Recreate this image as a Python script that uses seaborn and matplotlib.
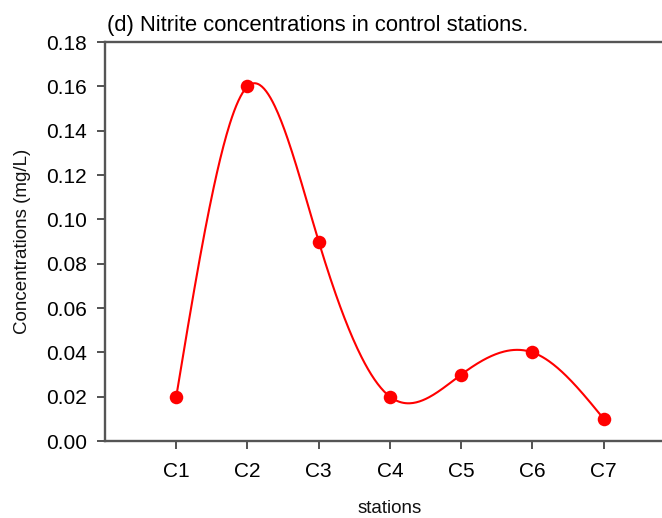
import numpy as np
import pandas as pd
import matplotlib
matplotlib.use("Agg")
import matplotlib.pyplot as plt
import seaborn as sns

stations = ["C1", "C2", "C3", "C4", "C5", "C6", "C7"]
nitrite = [0.02, 0.16, 0.09, 0.02, 0.03, 0.04, 0.01]
y_ticks = [0.00, 0.02, 0.04, 0.06, 0.08, 0.10, 0.12, 0.14, 0.16, 0.18]


def natural_cubic_spline(x, y, xs):
    x = np.asarray(x, float)
    y = np.asarray(y, float)
    n = len(x)
    h = np.diff(x)
    A = np.zeros((n, n))
    b = np.zeros(n)
    A[0, 0] = 1.0
    A[-1, -1] = 1.0
    for i in range(1, n - 1):
        A[i, i - 1] = h[i - 1]
        A[i, i] = 2 * (h[i - 1] + h[i])
        A[i, i + 1] = h[i]
        b[i] = 3 * ((y[i + 1] - y[i]) / h[i] - (y[i] - y[i - 1]) / h[i - 1])
    c = np.linalg.solve(A, b)
    out = np.empty_like(xs)
    for k, xv in enumerate(xs):
        i = min(max(np.searchsorted(x, xv) - 1, 0), n - 2)
        dx = xv - x[i]
        bi = (y[i + 1] - y[i]) / h[i] - h[i] * (2 * c[i] + c[i + 1]) / 3
        di = (c[i + 1] - c[i]) / (3 * h[i])
        out[k] = y[i] + bi * dx + c[i] * dx ** 2 + di * dx ** 3
    return out


pos = np.arange(1, len(stations) + 1)
xs = np.linspace(pos[0], pos[-1], 400)
curve = pd.DataFrame({"x": xs, "y": natural_cubic_spline(pos, nitrite, xs)})
points = pd.DataFrame({"x": pos, "y": nitrite})

sns.set_style("white")
plt.rcParams["font.family"] = ["Liberation Sans", "DejaVu Sans"]

fig = plt.figure(figsize=(6.62, 5.18), dpi=100)
ax = fig.add_axes([0.1586, 0.1486, 0.861, 0.770])

sns.lineplot(data=curve, x="x", y="y", ax=ax, color="#ff0000", linewidth=1.5, sort=False)
sns.scatterplot(data=points, x="x", y="y", ax=ax, color="#ff0000", s=95,
                edgecolor="#ff0000", linewidth=0, zorder=3)

ax.set_xlim(0, 8)
ax.set_ylim(0, 0.18)
ax.set_xticks(pos)
ax.set_xticklabels(stations)
ax.set_yticks(y_ticks)
ax.set_yticklabels([f"{v:.2f}" for v in y_ticks])
ax.tick_params(axis="both", direction="out", length=6, width=1.3, color="#444444",
               labelsize=15, labelcolor="#000000", bottom=True, left=True)
ax.tick_params(axis="x", pad=9)
ax.tick_params(axis="y", pad=7)

for side in ["left", "bottom", "top"]:
    ax.spines[side].set_visible(True)
    ax.spines[side].set_color("#555555")
    ax.spines[side].set_linewidth(1.7)
ax.spines["right"].set_visible(False)

ax.set_xlabel("stations", fontsize=13.5, color="#111111", labelpad=14)
ax.set_ylabel("Concentrations (mg/L)", fontsize=13.5, color="#111111", labelpad=11)
ax.text(0.004, 1.015, "(d) Nitrite concentrations in control stations.",
        transform=ax.transAxes, fontsize=15.8, color="#000000", ha="left", va="bottom")

fig.savefig("out.png", dpi=100)
